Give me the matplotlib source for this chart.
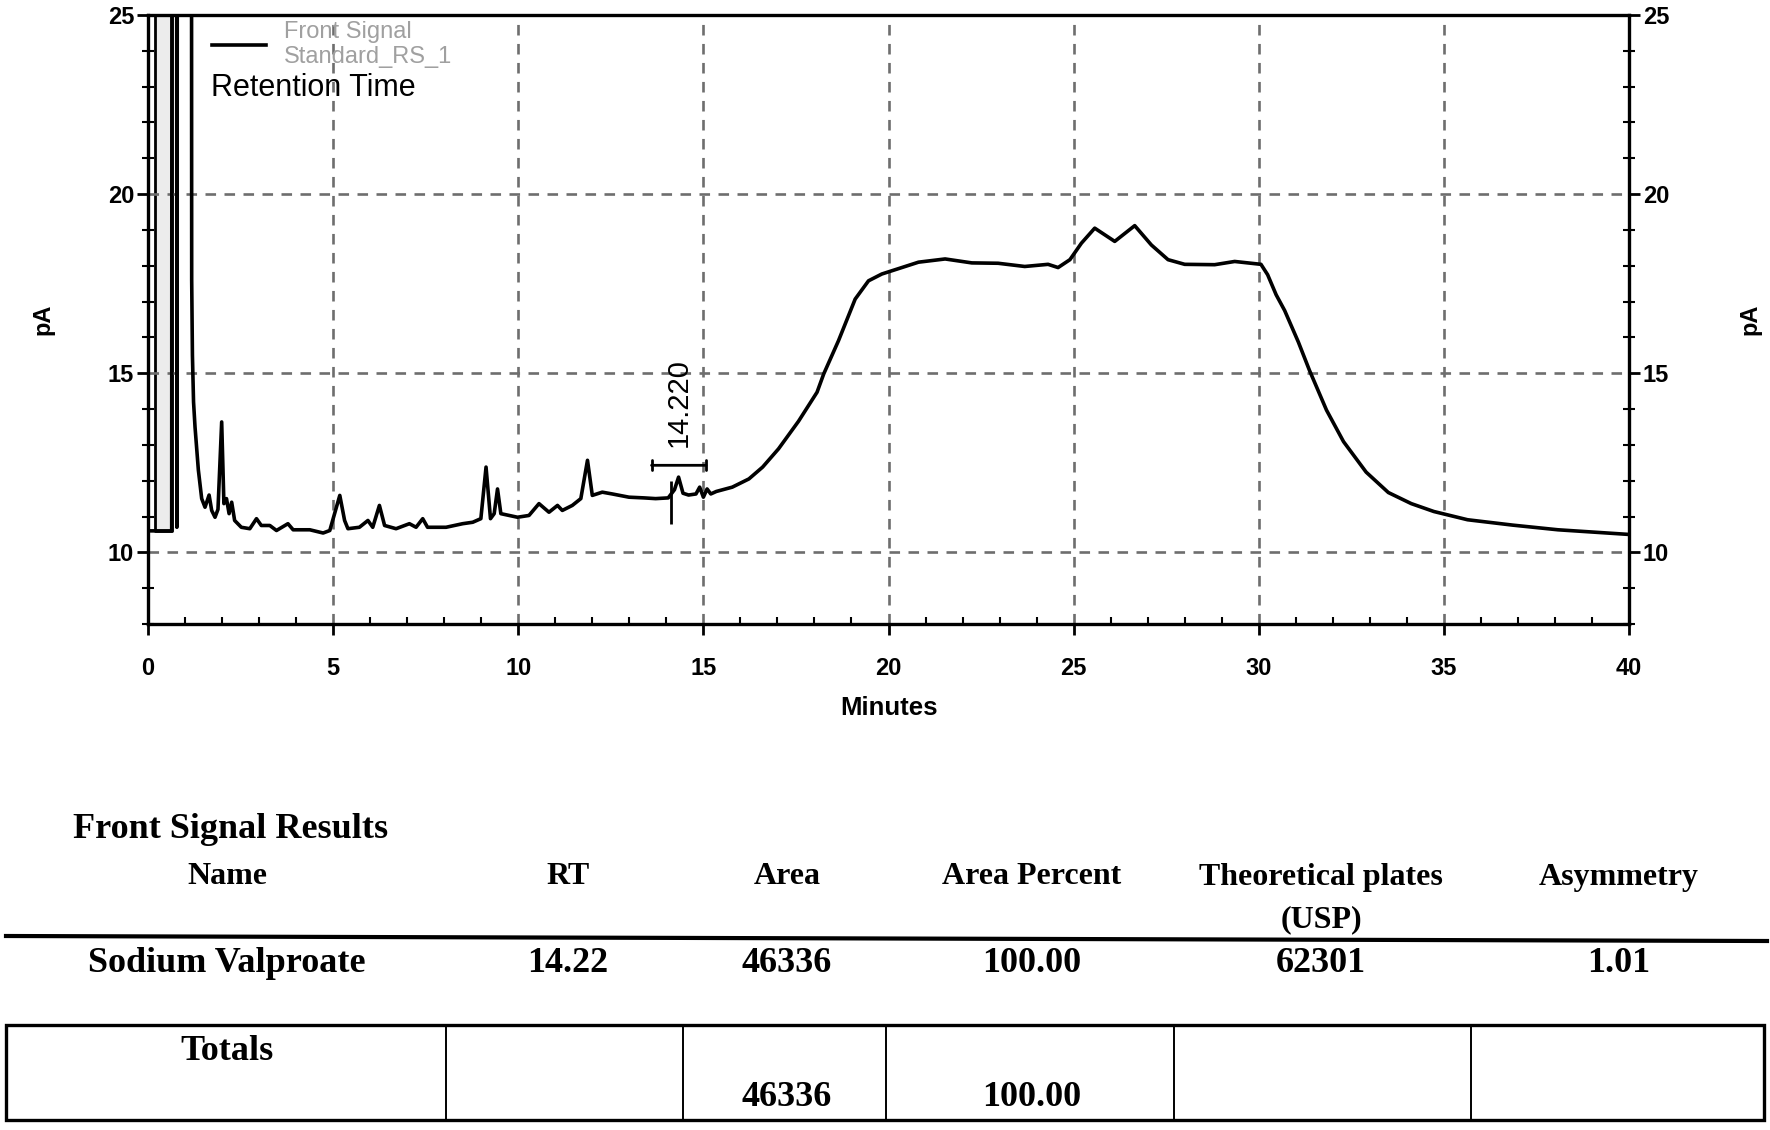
import matplotlib
matplotlib.use("Agg")
import matplotlib.pyplot as plt
from matplotlib.lines import Line2D
from matplotlib.patches import Rectangle

plt.rcParams['font.family'] = ['Liberation Sans', 'DejaVu Sans']

# chromatogram trace (minutes, pA); 40.0 = off scale
solvent_t = [0.0, 0.64, 0.65, 0.77, 0.78, 0.80, 1.17, 1.18, 1.20, 1.23, 1.27]
solvent_pA = [10.6, 10.6, 40.0, 40.0, 10.7, 40.0, 40.0, 17.6, 15.5, 14.2, 13.5]

early_t = [1.36, 1.45, 1.54, 1.65, 1.72, 1.81, 1.89, 1.99, 2.05, 2.12,
           2.19, 2.26, 2.34, 2.52, 2.75, 2.93, 3.06, 3.29, 3.47, 3.78,
           3.92, 4.37, 4.73, 4.91, 5.04, 5.18, 5.31, 5.40, 5.71, 5.94,
           6.07, 6.25, 6.39, 6.70, 7.06, 7.24, 7.42, 7.55, 8.05, 8.50,
           8.77, 8.99]
early_pA = [12.3, 11.5, 11.26, 11.6, 11.17, 10.98, 11.2, 13.64, 11.36, 11.5,
            11.08, 11.4, 10.89, 10.7, 10.66, 10.94, 10.75, 10.75, 10.61, 10.8,
            10.63, 10.63, 10.54, 10.61, 11.08, 11.59, 10.89, 10.66, 10.7, 10.89,
            10.7, 11.31, 10.75, 10.66, 10.8, 10.7, 10.94, 10.7, 10.7, 10.8,
            10.84, 10.94]

mid_t = [9.13, 9.25, 9.35, 9.44, 9.53, 9.76, 9.98, 10.29, 10.56, 10.83,
         11.06, 11.19, 11.46, 11.69, 11.87, 12.00, 12.27, 12.54, 12.99, 13.40,
         13.71, 14.05, 14.22, 14.33, 14.45, 14.60, 14.80, 14.90, 15.00, 15.10,
         15.20, 15.35]
mid_pA = [12.38, 10.94, 11.08, 11.77, 11.08, 11.03, 10.98, 11.03, 11.36, 11.12,
          11.31, 11.17, 11.31, 11.5, 12.57, 11.59, 11.68, 11.63, 11.54, 11.52,
          11.50, 11.52, 11.75, 12.10, 11.65, 11.60, 11.63, 11.82, 11.54, 11.77,
          11.63, 11.70]

hump_t = [15.78, 16.23, 16.60, 17.03, 17.57, 18.07, 18.25, 18.65, 19.10, 19.46,
          19.82, 20.18, 20.81, 21.53, 22.25, 22.96, 23.68, 24.31, 24.58, 24.90,
          25.21, 25.57, 26.11, 26.65, 27.10, 27.55, 28.00, 28.81, 29.35, 30.06,
          30.24, 30.47, 30.70, 31.07, 31.37, 31.83, 32.29, 32.90, 33.50, 34.12,
          34.73, 35.64, 36.86, 38.08, 40.00]
hump_pA = [11.82, 12.05, 12.38, 12.89, 13.66, 14.47, 14.98, 15.91, 17.07, 17.58,
           17.77, 17.89, 18.10, 18.19, 18.08, 18.07, 17.98, 18.04, 17.95, 18.17,
           18.63, 19.05, 18.68, 19.12, 18.58, 18.17, 18.04, 18.03, 18.12, 18.04,
           17.75, 17.19, 16.75, 15.87, 15.08, 13.97, 13.09, 12.24, 11.67, 11.36,
           11.14, 10.91, 10.76, 10.63, 10.50]

blank_window = [0.19, 0.64]
peak_label = "14.220"

# results table
col_names = ["Name", "RT", "Area", "Area Percent", "Theoretical plates\n(USP)", "Asymmetry"]
result_row = ["Sodium Valproate", "14.22", "46336", "100.00", "62301", "1.01"]
totals_row = ["Totals", "", "46336", "100.00", "", ""]

time_min = solvent_t + early_t + mid_t + hump_t
signal_pA = solvent_pA + early_pA + mid_pA + hump_pA

W, H = 1770, 1130
fig = plt.figure(figsize=(W / 100, H / 100), dpi=100)
ax = fig.add_axes([148 / W, 1 - 624 / H, 1481 / W, 609 / H])


def fx(px):
    return px / W


def fy(py):
    return 1 - py / H


# grey blank window next to the solvent front
ax.fill_between(blank_window, 10.6, 40, facecolor='#ececec', edgecolor='black', lw=2)
line, = ax.plot(time_min, signal_pA, color='black', lw=2.6,
                label="Front Signal\nStandard_RS_1", zorder=3)

ax.set_xlim(0, 40)
ax.set_ylim(8, 25)
ax.set_xticks(range(0, 41, 5))
ax.set_xticks(range(0, 41, 1), minor=True)
ax.set_yticks([10, 15, 20, 25])
ax.set_yticks(range(8, 26), minor=True)
ax.grid(True, which='major', color='#6e6e6e', linestyle=(0, (4, 3.2)), lw=1.9)

for s in ax.spines.values():
    s.set_linewidth(2.4)
ax.tick_params(axis='x', which='major', direction='out', length=8, width=2,
               pad=16, labelsize=17)
ax.tick_params(axis='x', which='minor', direction='in', length=5, width=1.5)
ax.tick_params(axis='y', which='major', direction='out', length=8, width=2,
               pad=2, labelsize=17, right=True, labelright=True)
ax.tick_params(axis='y', which='minor', direction='inout', length=8, width=1.5,
               right=True)
for lab in ax.get_xticklabels() + ax.get_yticklabels():
    lab.set_fontweight('bold')

ax.text(0.5, -0.138, "Minutes", transform=ax.transAxes, ha='center', va='center',
        fontsize=18.5, fontweight='bold')
ax.text(-0.071, 0.5, "pA", transform=ax.transAxes, ha='center', va='center',
        rotation=90, fontsize=17, fontweight='bold')
ax.text(1.082, 0.5, "pA", transform=ax.transAxes, ha='center', va='center',
        rotation=90, fontsize=17, fontweight='bold')

ax.legend(handles=[line], loc='upper left', bbox_to_anchor=(0.043, 0.99),
          frameon=False, fontsize=17, labelcolor='#a0a0a0', handlelength=2.3,
          handletextpad=0.75, borderpad=0, borderaxespad=0, labelspacing=0)
ax.text(0.0425, 0.88, "Retention Time", transform=ax.transAxes, fontsize=22,
        va='center', ha='left')

# peak annotation
ax.text(14.34, 12.93, peak_label, rotation=90, ha='center', va='bottom', fontsize=21)
ax.annotate('', xy=(13.6, 12.43), xytext=(15.07, 12.43),
            arrowprops=dict(arrowstyle='|-|, widthA=0.35, widthB=0.35', lw=2,
                            shrinkA=0, shrinkB=0))
ax.vlines(14.12, 10.8, 12.0, color='black', lw=2)

# results table below the chart
serif = ['Liberation Serif', 'DejaVu Serif']
col_x = [227, 568, 787, 1032, 1321, 1619]
fig.text(fx(73), fy(830), "Front Signal Results", family=serif, fontsize=26,
         fontweight='bold', ha='left', va='center')
for cx, name in zip(col_x, col_names):
    parts = name.split("\n")
    fig.text(fx(cx), fy(877), parts[0], family=serif, fontsize=23,
             fontweight='bold', ha='center', va='center')
    if len(parts) > 1:
        fig.text(fx(cx), fy(920), parts[1], family=serif, fontsize=23,
                 fontweight='bold', ha='center', va='center')

fig.add_artist(Line2D([fx(6), fx(1767)], [fy(936), fy(941)], color='black',
                      lw=3, transform=fig.transFigure))

for cx, val in zip(col_x, result_row):
    fig.text(fx(cx), fy(963), val, family=serif, fontsize=26,
             fontweight='bold', ha='center', va='center')

fig.add_artist(Rectangle((fx(6), fy(1120)), fx(1758), fy(1025) - fy(1120),
                         fill=False, edgecolor='black', lw=2.4,
                         transform=fig.transFigure))
for dx in [446, 683, 886, 1174, 1471]:
    fig.add_artist(Line2D([fx(dx), fx(dx)], [fy(1025), fy(1120)], color='black',
                          lw=1.4, transform=fig.transFigure))

fig.text(fx(col_x[0]), fy(1051), totals_row[0], family=serif, fontsize=26,
         fontweight='bold', ha='center', va='center')
for cx, val in zip(col_x[1:], totals_row[1:]):
    if val:
        fig.text(fx(cx), fy(1097), val, family=serif, fontsize=26,
                 fontweight='bold', ha='center', va='center')

fig.savefig("out.png", dpi=100)
